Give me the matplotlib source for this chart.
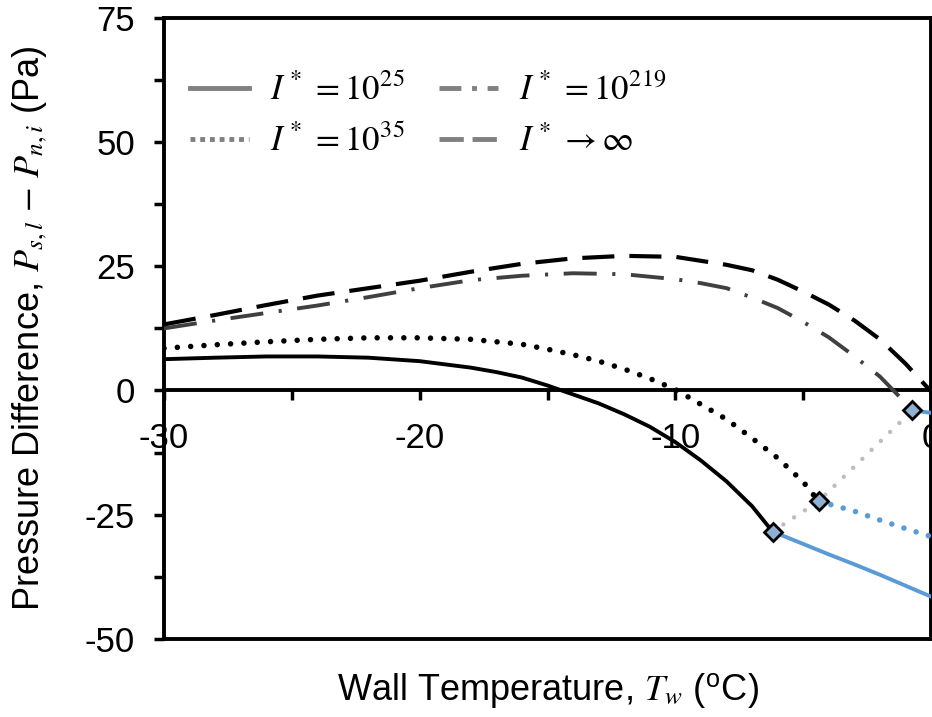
import matplotlib
matplotlib.use('Agg')
import matplotlib.pyplot as plt
from matplotlib.lines import Line2D
from matplotlib.ticker import MultipleLocator

plt.rcParams['font.family'] = ['Liberation Sans', 'DejaVu Sans']
plt.rcParams['mathtext.fontset'] = 'stix'
plt.rcParams['axes.unicode_minus'] = False

# I* = 1e25, liquid branch (black) and blue continuation
t_25 = [-30, -28, -26, -24, -22, -20, -18, -17, -16, -15, -14, -13, -12, -11, -10, -9, -8, -7, -6.2]
p_25 = [6.3, 6.6, 6.85, 6.85, 6.6, 5.9, 4.6, 3.7, 2.6, 1.0, -0.8, -2.6, -4.8, -7.3, -10.4, -14.1, -18.3, -23.3, -28.4]
t_25b = [-6.2, -5, -4, -3, -2, -1, 0]
p_25b = [-28.4, -30.9, -33.0, -35.0, -37.1, -39.3, -41.5]

# I* = 1e35
t_35 = [-30, -28, -26, -24, -22, -20, -18, -16, -15, -14, -13, -12, -11, -10, -9, -8, -7, -6, -5, -4.4]
p_35 = [8.5, 9.2, 9.8, 10.3, 10.6, 10.6, 10.3, 9.3, 8.3, 7.2, 5.9, 4.3, 2.4, 0.2, -2.8, -5.8, -9.6, -13.6, -18.4, -22.3]
t_35b = [-4.4, -3, -2, -1, 0]
p_35b = [-22.3, -24.3, -26.1, -27.8, -29.4]

# I* = 1e219
t_219 = [-30, -28, -26, -24, -22, -20, -18, -16, -14, -12, -10, -9, -8, -7, -6, -5, -4, -3, -2, -1, -0.73]
p_219 = [12.5, 14.1, 15.6, 17.1, 18.8, 20.6, 22.2, 23.1, 23.6, 23.4, 22.4, 21.6, 20.6, 18.7, 16.6, 13.8, 10.7, 6.9, 2.8, -2.5, -4.0]
t_219b = [-0.73, 0]
p_219b = [-4.0, -4.5]

# I* -> infinity
t_inf = [-30, -28, -26, -24, -22, -20, -18, -16, -14, -12, -10, -8, -7, -6, -5, -4, -3, -2, -1, 0]
p_inf = [13.3, 15.2, 17.2, 19.1, 20.6, 22.1, 23.9, 25.5, 26.6, 27.1, 26.9, 25.3, 24.2, 22.3, 19.9, 17.3, 14.1, 10.3, 5.4, -0.2]

# transition points
t_tr = [-6.2, -4.4, -0.73]
p_tr = [-28.4, -22.3, -4.0]

blue = '#5b9bd5'
grey = '#808080'

fig = plt.figure(figsize=(9.32, 7.17), dpi=100)
ax = fig.add_axes([0.176, 0.109, 0.823, 0.866])

ax.plot(t_tr, p_tr, color='#bdbdbd', lw=3.2, dash_capstyle='round',
        linestyle=(0, (0.001, 2.9)), zorder=2)

ax.plot(t_25, p_25, color='k', lw=2.8, zorder=3)
ax.plot(t_25b, p_25b, color=blue, lw=2.8, zorder=3)

ax.plot(t_35, p_35, color='k', lw=4, dash_capstyle='round',
        linestyle=(0, (0.001, 2.4)), zorder=3)
ax.plot(t_35b, p_35b, color=blue, lw=4, dash_capstyle='round',
        linestyle=(0, (0.001, 2.3)), zorder=3)

ax.plot(t_219, p_219, color='#404040', lw=2.8,
        linestyle=(0, (8.5, 4.0, 0.8, 4.0)), zorder=3)
ax.plot(t_219b, p_219b, color=blue, lw=2.8, zorder=3)

ax.plot(t_inf, p_inf, color='k', lw=3.0, linestyle=(0, (7.7, 3.6)), zorder=3)

ax.plot(t_tr, p_tr, linestyle='none', marker='D', ms=9, mfc='#8fafd3',
        mec='k', mew=2, zorder=5)

ax.set_xlim(-30, 0)
ax.set_ylim(-50, 75)
ax.xaxis.set_major_locator(MultipleLocator(10))
ax.xaxis.set_minor_locator(MultipleLocator(5))
ax.yaxis.set_major_locator(MultipleLocator(25))
ax.yaxis.set_minor_locator(MultipleLocator(12.5))

for s in ax.spines.values():
    s.set_linewidth(2.8)
ax.spines['bottom'].set_position(('data', 0))
ax.axhline(-50, color='k', lw=2.8, clip_on=False)

ax.tick_params(axis='both', which='both', direction='out', length=7, width=2.5)
ax.tick_params(axis='x', labelsize=25, pad=16)
ax.tick_params(axis='y', labelsize=25, pad=14)

ax.set_xlabel(r'Wall Temperature, $T_w$ ($^{\mathregular{o}}$C)', fontsize=26)
ax.set_ylabel(r'Pressure Difference, $P_{s,l}\,-\,P_{n,i}$ (Pa)', fontsize=26)
ax.xaxis.set_label_coords(0.5, -0.051)
ax.yaxis.set_label_coords(-0.15, 0.5)

handles = [
    Line2D([], [], color=grey, lw=3.5),
    Line2D([], [], color=grey, lw=3.5, linestyle=(0, (1, 1))),
    Line2D([], [], color=grey, lw=3.5, linestyle=(0, (4.5, 2.2, 1, 2.2))),
    Line2D([], [], color=grey, lw=3.5, linestyle=(0, (5, 1.8))),
]
labels = [r'$I^*\,=10^{25}$', r'$I^*\,=10^{35}$',
          r'$I^*\,=10^{219}$', r'$I^*\,\rightarrow \infty$']
ax.legend(handles, labels, ncol=2, frameon=False, fontsize=25,
          loc='upper left', bbox_to_anchor=(0.034, 0.91), borderpad=0,
          borderaxespad=0, handlelength=1.7, handletextpad=0.6,
          columnspacing=1.0, labelspacing=0.5)

fig.savefig('out.png', dpi=100)
